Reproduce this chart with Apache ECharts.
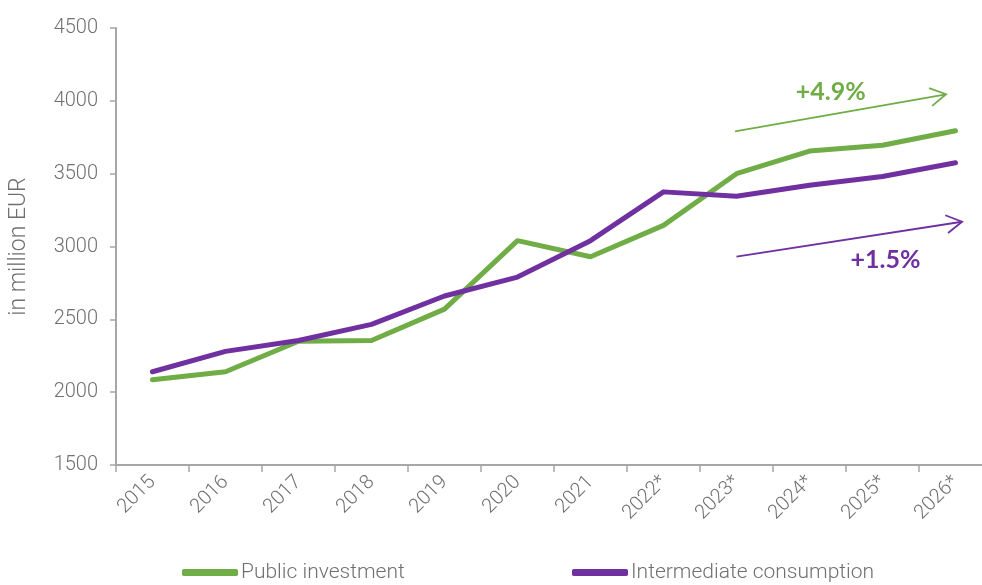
<!DOCTYPE html>
<html>
<head>
<meta charset="utf-8">
<script src="https://cdn.jsdelivr.net/npm/echarts@6/dist/echarts.min.js"></script>
<style>
html,body{margin:0;padding:0;background:#fff;overflow:hidden;width:982px;height:585px;}
#chart{width:995px;height:585px;}
</style>
</head>
<body>
<div id="chart"></div>
<script>
// ---- data ----
var years = ['2015','2016','2017','2018','2019','2020','2021','2022*','2023*','2024*','2025*','2026*'];
var publicInvestment = [2085, 2140, 2350, 2355, 2570, 3040, 2930, 3145, 3500, 3655, 3695, 3795];
var intermediateConsumption = [2140, 2280, 2355, 2465, 2660, 2790, 3040, 3375, 3345, 3420, 3480, 3575];
var seriesNames = ['Public investment', 'Intermediate consumption'];
var yTicks = { min: 1500, max: 4500, interval: 500 };
// annotation anchors in data space: [category position (fractional index), value]
var greenArrow = { from: [7.98, 3790], to: [10.87, 4045], label: '+4.9%', labelAt: [9.29, 4058] };
var purpleArrow = { from: [8.0, 2930], to: [11.09, 3170], label: '+1.5%', labelAt: [10.04, 2905] };

var GREEN = '#70AD47', PURPLE = '#7030A0', GREY = '#707070', AXIS = '#a6a6a6';
var FONT = 'Roboto, "Liberation Sans", sans-serif';

var chart = echarts.init(document.getElementById('chart'), null, { renderer: 'canvas' });

var legendCommon = {
  top: 562, icon: 'roundRect', padding: 0,
  itemWidth: 56, itemHeight: 7, itemGap: 0,
  textStyle: { color: GREY, fontSize: 21, fontFamily: FONT, fontWeight: 300, padding: [0,0,0,-2] }
};

var option = {
  animation: false,
  backgroundColor: '#ffffff',
  grid: { left: 113, right: 3, top: 28, bottom: 120, containLabel: false },
  legend: [
    Object.assign({ data: [seriesNames[0]], left: 182 }, legendCommon),
    Object.assign({ data: [seriesNames[1]], left: 572 }, legendCommon)
  ],
  xAxis: {
    type: 'category',
    data: years,
    boundaryGap: true,
    axisLine: { show: true, lineStyle: { color: AXIS, width: 2 } },
    axisTick: { show: true, length: 7, lineStyle: { color: AXIS, width: 1.5 } },
    axisLabel: { rotate: 45, margin: 14, color: GREY, fontSize: 20, fontFamily: FONT, fontWeight: 300, interval: 0 },
    splitLine: { show: false }
  },
  yAxis: {
    type: 'value',
    min: yTicks.min, max: yTicks.max, interval: yTicks.interval,
    name: 'in million EUR',
    nameLocation: 'middle',
    nameRotate: 90,
    nameGap: 85,
    nameTextStyle: { color: GREY, fontSize: 23, fontFamily: FONT, fontWeight: 300 },
    axisLine: { show: true, lineStyle: { color: AXIS, width: 2 } },
    axisTick: { show: true, length: 6, lineStyle: { color: AXIS, width: 1.5 } },
    axisLabel: { margin: 18, color: GREY, fontSize: 20, fontFamily: FONT, fontWeight: 300,
                 formatter: function (v) { return String(v); } },
    splitLine: { show: false }
  },
  series: [
    {
      name: seriesNames[0], type: 'line', data: publicInvestment,
      symbol: 'none', color: GREEN,
      lineStyle: { color: GREEN, width: 5, cap: 'round', join: 'round' }
    },
    {
      name: seriesNames[1], type: 'line', data: intermediateConsumption,
      symbol: 'none', color: PURPLE,
      lineStyle: { color: PURPLE, width: 5, cap: 'round', join: 'round' }
    }
  ]
};
chart.setOption(option);

// convert [fractional category position, value] to pixels using the chart's own axes
function toPx(pt) {
  var i0 = Math.floor(pt[0]), f = pt[0] - i0;
  var a = chart.convertToPixel({ gridIndex: 0 }, [i0, pt[1]]);
  var b = chart.convertToPixel({ gridIndex: 0 }, [i0 + 1 <= years.length - 1 ? i0 + 1 : i0 - 1, pt[1]]);
  var step = (i0 + 1 <= years.length - 1) ? (b[0] - a[0]) : (a[0] - b[0]);
  return [a[0] + f * step, a[1]];
}

function arrowGraphics(a, color) {
  var p0 = toPx(a.from), p1 = toPx(a.to), pl = toPx(a.labelAt);
  var ang = Math.atan2(p1[1] - p0[1], p1[0] - p0[0]);
  var L = 18, spread = Math.PI / 6;
  var h1 = [p1[0] - L * Math.cos(ang - spread), p1[1] - L * Math.sin(ang - spread)];
  var h2 = [p1[0] - L * Math.cos(ang + spread), p1[1] - L * Math.sin(ang + spread)];
  return [
    { type: 'line', shape: { x1: p0[0], y1: p0[1], x2: p1[0], y2: p1[1] },
      style: { stroke: color, lineWidth: 1.8 }, z: 10 },
    { type: 'polyline', shape: { points: [h1, p1, h2] },
      style: { stroke: color, lineWidth: 1.8, fill: null }, z: 10 },
    { type: 'text', x: pl[0], y: pl[1], z: 10,
      style: { text: a.label, fill: color, font: 'bold 25px Lato, "Open Sans", sans-serif',
               textAlign: 'center', textVerticalAlign: 'middle' } }
  ];
}
chart.setOption({ graphic: arrowGraphics(greenArrow, GREEN).concat(arrowGraphics(purpleArrow, PURPLE)) });
</script>
</body>
</html>
